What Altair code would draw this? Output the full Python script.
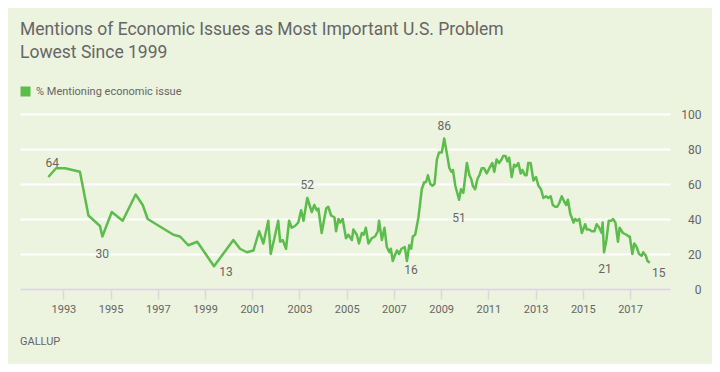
import altair as alt
import pandas as pd

# ---- data ----
years = [1992.36, 1992.69, 1993.07, 1993.70, 1994.06, 1994.55, 1994.65, 1995.05, 1995.51,
         1996.06, 1996.36, 1996.57, 1997.66, 1997.94, 1998.29, 1998.67, 1999.38, 2000.20,
         2000.48, 2000.77, 2001.05, 2001.29, 2001.47, 2001.68, 2001.78, 2001.92, 2002.10,
         2002.18, 2002.29, 2002.43, 2002.56, 2002.67, 2002.81, 2002.95, 2003.07, 2003.17,
         2003.33, 2003.52, 2003.63, 2003.73, 2003.80, 2003.94, 2004.13, 2004.22, 2004.34,
         2004.48, 2004.55, 2004.65, 2004.72, 2004.83, 2004.97, 2005.07, 2005.22, 2005.28,
         2005.43, 2005.52, 2005.64, 2005.72, 2005.81, 2005.92, 2006.06, 2006.20, 2006.32,
         2006.37, 2006.49, 2006.60, 2006.70, 2006.81, 2006.87, 2006.95, 2007.03, 2007.13,
         2007.22, 2007.32, 2007.46, 2007.55, 2007.65, 2007.73, 2007.80, 2007.90, 2008.04,
         2008.18, 2008.28, 2008.36, 2008.44, 2008.54, 2008.63, 2008.72, 2008.82, 2008.91,
         2009.03, 2009.13, 2009.21, 2009.35, 2009.43, 2009.50, 2009.60, 2009.76, 2009.84,
         2009.94, 2010.09, 2010.20, 2010.27, 2010.34, 2010.44, 2010.54, 2010.62, 2010.72,
         2010.82, 2010.93, 2011.04, 2011.17, 2011.25, 2011.35, 2011.45, 2011.56, 2011.63,
         2011.73, 2011.81, 2011.88, 2011.99, 2012.09, 2012.17, 2012.27, 2012.37, 2012.44,
         2012.55, 2012.62, 2012.69, 2012.79, 2012.91, 2013.02, 2013.12, 2013.23, 2013.33,
         2013.44, 2013.54, 2013.64, 2013.73, 2013.83, 2013.92, 2014.00, 2014.11, 2014.21,
         2014.30, 2014.37, 2014.47, 2014.61, 2014.68, 2014.75, 2014.85, 2014.96, 2015.10,
         2015.17, 2015.27, 2015.38, 2015.49, 2015.59, 2015.70, 2015.80, 2015.84, 2015.90,
         2016.00, 2016.10, 2016.21, 2016.28, 2016.38, 2016.49, 2016.56, 2016.70, 2016.85,
         2016.95, 2016.99, 2017.10, 2017.18, 2017.28, 2017.38, 2017.49, 2017.56, 2017.67,
         2017.74, 2017.84]
values = [64, 69, 69, 67, 42, 36, 30, 44, 39,
          54, 48, 40, 31, 30, 25, 27, 13, 28,
          23, 21, 22, 33, 26, 39, 20, 28, 39,
          27, 28, 23, 39, 35, 36, 38, 45, 39,
          52, 44, 48, 45, 46, 32, 46, 47, 42,
          41, 33, 40, 38, 40, 29, 31, 28, 34,
          31, 26, 32, 31, 35, 26, 29, 30, 33,
          39, 28, 35, 24, 21, 23, 16, 19, 22,
          20, 23, 24, 16, 25, 23, 30, 31, 41,
          57, 61, 61, 65, 60, 59, 60, 74, 78,
          78, 86, 80, 69, 67, 68, 59, 51, 57,
          55, 72, 65, 63, 59, 57, 63, 65, 69,
          69, 66, 69, 72, 67, 74, 72, 74, 76,
          76, 73, 75, 64, 71, 70, 72, 66, 68,
          65, 65, 72, 72, 62, 64, 59, 57, 52,
          53, 52, 53, 48, 47, 47, 49, 53, 50,
          48, 51, 43, 38, 40, 39, 40, 32, 37,
          34, 34, 33, 33, 37, 35, 32, 38, 21,
          28, 39, 39, 40, 38, 27, 35, 32, 31,
          30, 30, 20, 26, 24, 20, 19, 21, 19,
          16, 15]

label_years = [1992.36, 1994.65, 1999.38, 2003.33, 2007.55, 2009.13, 2009.76, 2015.90, 2017.84]
label_values = [64, 30, 13, 52, 16, 86, 51, 21, 15]
label_texts = ["64", "30", "13", "52", "16", "86", "51", "21", "15"]
label_dx = [4, 0, 12, 0, 4, 0, 0, 1, 9]
label_dy = [-14, 17, 6, -13, 9, -13, 18, 17, 10]

x_ticks = list(range(1993, 2018, 2))
y_ticks = [0, 20, 40, 60, 80, 100]

series_name = "% Mentioning economic issue"
GREEN = "#5cbd4d"
BG = "#ecf3de"
GREY = "#666666"
FONT = "Roboto"

df = pd.DataFrame({"year": years, "value": values, "series": series_name})

xscale = alt.Scale(domain=[1991.162, 2018.694], nice=False, zero=False)
yscale = alt.Scale(domain=[0, 100], nice=False)

x_axis = alt.Axis(values=x_ticks, format="d", grid=False, domainColor="#d9d9d9",
                  domainWidth=2, tickColor="#d9d9d9", tickWidth=1.5, tickSize=10,
                  labelPadding=4, labelColor=GREY, labelFontSize=11, labelFont=FONT,
                  labelOverlap=False, zindex=1)
y_axis = alt.Axis(orient="right", values=y_ticks, grid=True, gridColor="white",
                  gridWidth=2, domain=False, ticks=False, labelAlign="right",
                  labelPadding=31, labelColor=GREY, labelFontSize=12, labelFont=FONT,
                  labelOverlap=False)

line = alt.Chart(df).mark_line(strokeWidth=2.5, strokeJoin="round").encode(
    x=alt.X("year:Q", scale=xscale, title=None, axis=x_axis),
    y=alt.Y("value:Q", scale=yscale, title=None, axis=y_axis),
    color=alt.Color("series:N", scale=alt.Scale(domain=[series_name], range=[GREEN]),
                    legend=alt.Legend(title=None, orient="none", legendX=0, legendY=-28,
                                      symbolType="square", symbolSize=100,
                                      symbolFillColor=GREEN, symbolStrokeColor=GREEN,
                                      symbolStrokeWidth=0, labelFontSize=11,
                                      labelColor=GREY, labelFont=FONT, labelOffset=5)),
)

layers = [line]
for yr, v, t, dx, dy in zip(label_years, label_values, label_texts, label_dx, label_dy):
    ldf = pd.DataFrame({"year": [yr], "value": [v], "label": [t]})
    layers.append(
        alt.Chart(ldf).mark_text(dx=dx, dy=dy, fontSize=12, color=GREY, font=FONT,
                                 align="center", baseline="middle").encode(
            x=alt.X("year:Q", scale=xscale, title=None, axis=x_axis),
            y=alt.Y("value:Q", scale=yscale, title=None, axis=y_axis),
            text="label:N",
        )
    )

source = alt.Chart(pd.DataFrame({"t": ["GALLUP"]})).mark_text(
    align="left", baseline="middle", fontSize=11, color=GREY, font=FONT
).encode(x=alt.value(0), y=alt.value(228), text="t:N")
layers.append(source)

chart = alt.layer(*layers).properties(
    width=650, height=175,
    autosize=alt.AutoSizeParams(type="none"),
    padding={"left": 12, "top": 106, "right": 42, "bottom": 75},
    background=BG,
    title=alt.TitleParams(
        text=["Mentions of Economic Issues as Most Important U.S. Problem", "Lowest Since 1999"],
        anchor="start", fontSize=17.5, fontWeight="normal", color=GREY, font=FONT,
        lineHeight=23, offset=25,
    ),
).configure_view(stroke=None)

chart.save("out.html", embed_options={"renderer": "svg", "actions": False})
